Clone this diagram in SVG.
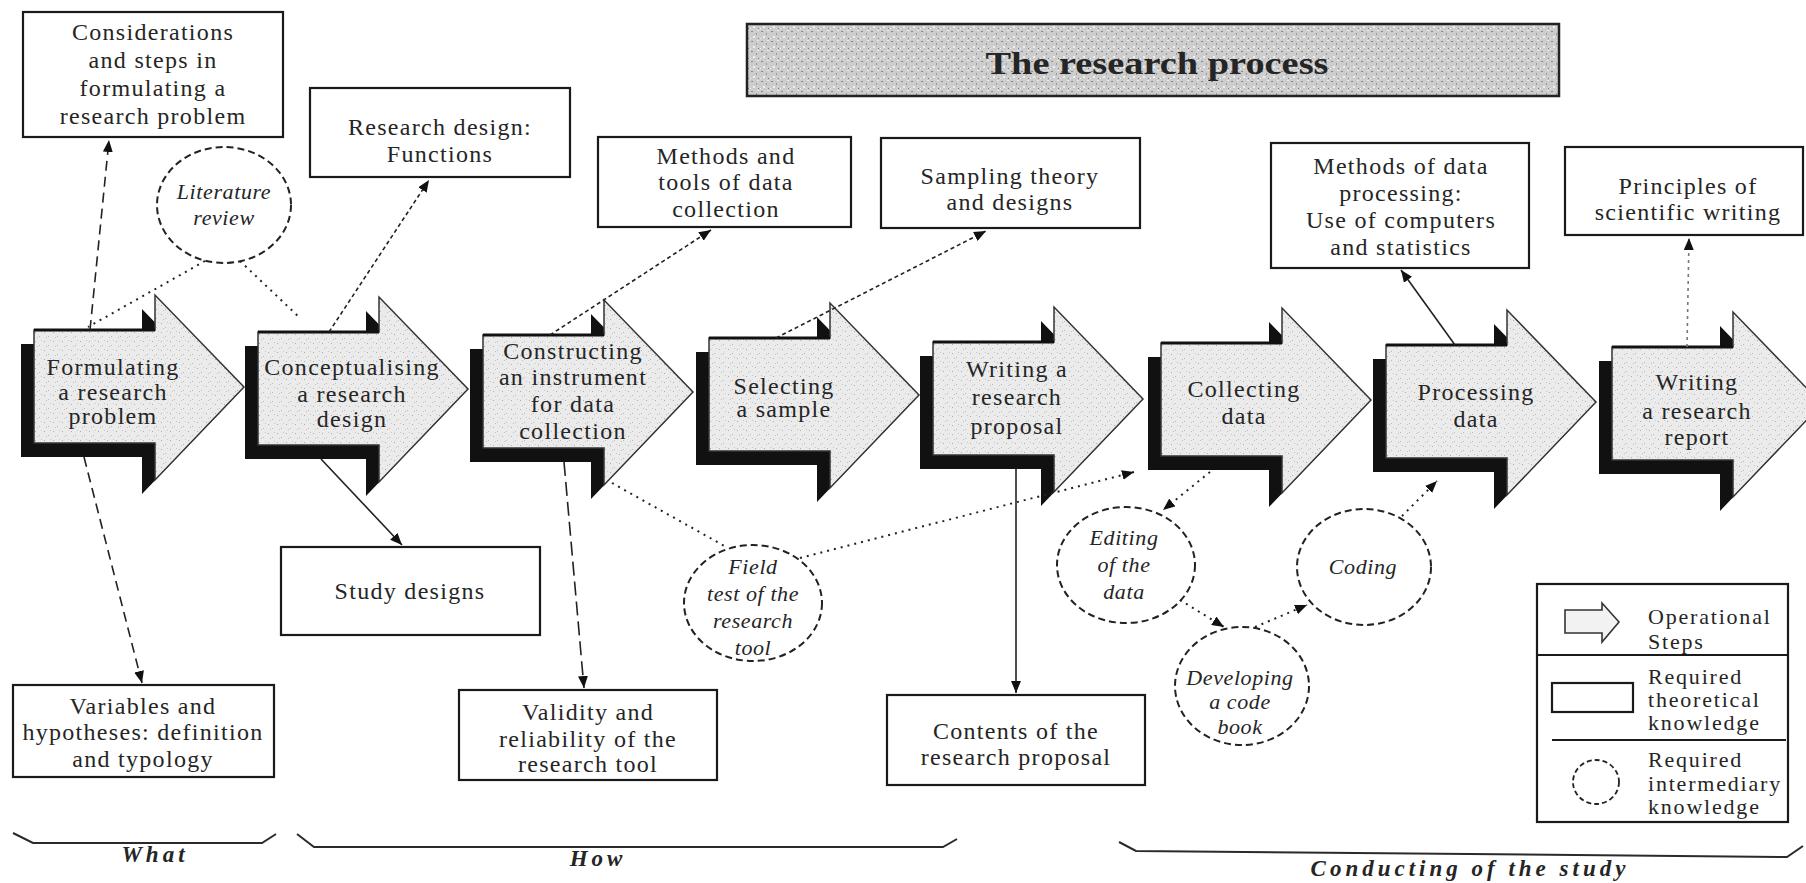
<svg xmlns="http://www.w3.org/2000/svg" xmlns:xlink="http://www.w3.org/1999/xlink" width="1806" height="883" viewBox="0 0 1806 883">
<defs>
<style>
.t{font-family:"Liberation Serif","Times New Roman",serif;font-size:24px;letter-spacing:1.3px;fill:#252525;text-anchor:middle}
.it{font-style:italic;font-size:22px;letter-spacing:0.6px}
.lg{font-size:22px;letter-spacing:1.8px;text-anchor:start}
.lab{font-weight:bold;font-style:italic;font-size:23px;letter-spacing:4px}
.title{font-weight:bold;font-size:31px;letter-spacing:0}
.box{fill:#fff;stroke:#1a1a1a;stroke-width:2.2}
.circ{fill:#fff;stroke:#222;stroke-width:2;stroke-dasharray:7 4}
.shadow{fill:#111}
.front{fill:url(#stip);stroke:#333;stroke-width:1.5}
.topedge{stroke:#111;stroke-width:3}
.con{fill:none;stroke:#222;stroke-width:1.6}
.dash{stroke-dasharray:10 6}
.ldash{stroke-dasharray:14 6}
.dot{stroke-dasharray:2 5;stroke-width:2}
.ddot{stroke-dasharray:4 3}
.light{stroke:#777;stroke-dasharray:3 4}
.brace{fill:none;stroke:#2a2a2a;stroke-width:2}
</style>
<pattern id="stip" width="9" height="9" patternUnits="userSpaceOnUse">
<rect width="9" height="9" fill="#ebebeb"/>
<rect x="1" y="2" width="1" height="1" fill="#adadad"/>
<rect x="5" y="6" width="1" height="1" fill="#bababa"/>
<rect x="7" y="1" width="1" height="1" fill="#c8c8c8"/>
<rect x="3" y="7" width="1" height="1" fill="#c2c2c2"/>
</pattern>
<pattern id="noise" width="10" height="10" patternUnits="userSpaceOnUse">
<rect width="10" height="10" fill="#cdcdcd"/>
<rect x="1" y="1" width="2" height="1" fill="#8a8a8a"/>
<rect x="6" y="3" width="1" height="2" fill="#9a9a9a"/>
<rect x="3" y="6" width="2" height="2" fill="#efefef"/>
<rect x="8" y="8" width="1" height="1" fill="#7a7a7a"/>
<rect x="0" y="8" width="1" height="1" fill="#f5f5f5"/>
<rect x="7" y="0" width="2" height="1" fill="#eaeaea"/>
</pattern>
<marker id="ah" markerUnits="userSpaceOnUse" markerWidth="14" markerHeight="10" refX="12" refY="5" orient="auto">
<path d="M0,0 L12,5 L0,10 Z" fill="#111"/>
</marker>
<polygon id="stepShape" points="0,0 121,0 121,-35 210,57 121,150 121,113 0,113"/>
</defs>

<rect width="1806" height="883" fill="#fff"/>

<g id="title">
<rect x="747" y="24" width="812" height="72" fill="url(#noise)" stroke="#222" stroke-width="2.5"/>
<text class="t title" x="1157" y="74" textLength="343" lengthAdjust="spacingAndGlyphs">The research process</text>
</g>

<g id="considerations">
<rect class="box" x="23" y="12" width="260" height="125"/>
<text class="t" x="153" y="40">Considerations</text>
<text class="t" x="153" y="68">and steps in</text>
<text class="t" x="153" y="96">formulating a</text>
<text class="t" x="153" y="124">research problem</text>
</g>

<g id="research-design-functions">
<rect class="box" x="310" y="88" width="260" height="89"/>
<text class="t" x="440" y="135">Research design:</text>
<text class="t" x="440" y="162">Functions</text>
</g>

<g id="literature-review">
<ellipse class="circ" cx="224" cy="205" rx="67" ry="58"/>
<text class="t it" x="224" y="199">Literature</text>
<text class="t it" x="224" y="225">review</text>
</g>

<g id="methods-tools">
<rect class="box" x="598" y="137" width="253" height="90"/>
<text class="t" x="726" y="164">Methods and</text>
<text class="t" x="726" y="190">tools of data</text>
<text class="t" x="726" y="217">collection</text>
</g>

<g id="sampling">
<rect class="box" x="881" y="138" width="259" height="90"/>
<text class="t" x="1010" y="184">Sampling theory</text>
<text class="t" x="1010" y="210">and designs</text>
</g>

<g id="methods-processing">
<rect class="box" x="1271" y="143" width="258" height="125"/>
<text class="t" x="1401" y="174">Methods of data</text>
<text class="t" x="1401" y="201">processing:</text>
<text class="t" x="1401" y="228">Use of computers</text>
<text class="t" x="1401" y="255">and statistics</text>
</g>

<g id="principles">
<rect class="box" x="1565" y="147" width="238" height="88"/>
<text class="t" x="1688" y="194">Principles of</text>
<text class="t" x="1688" y="220">scientific writing</text>
</g>

<g id="step1" transform="translate(34,330)">
<use xlink:href="#stepShape" class="shadow" x="-13" y="14"/>
<use xlink:href="#stepShape" class="front"/>
<path class="topedge" d="M0,0 H121"/>
<text class="t" x="79" y="45">Formulating</text>
<text class="t" x="79" y="70">a research</text>
<text class="t" x="79" y="94">problem</text>
</g>

<g id="step2" transform="translate(258,332)">
<use xlink:href="#stepShape" class="shadow" x="-13" y="14"/>
<use xlink:href="#stepShape" class="front"/>
<path class="topedge" d="M0,0 H121"/>
<text class="t" x="94" y="43">Conceptualising</text>
<text class="t" x="94" y="70">a research</text>
<text class="t" x="94" y="95">design</text>
</g>

<g id="step3" transform="translate(483,335)">
<use xlink:href="#stepShape" class="shadow" x="-13" y="14"/>
<use xlink:href="#stepShape" class="front"/>
<path class="topedge" d="M0,0 H121"/>
<text class="t" x="90" y="24">Constructing</text>
<text class="t" x="90" y="50">an instrument</text>
<text class="t" x="90" y="77">for data</text>
<text class="t" x="90" y="104">collection</text>
</g>

<g id="step4" transform="translate(709,338)">
<use xlink:href="#stepShape" class="shadow" x="-13" y="14"/>
<use xlink:href="#stepShape" class="front"/>
<path class="topedge" d="M0,0 H121"/>
<text class="t" x="75" y="56">Selecting</text>
<text class="t" x="75" y="79">a sample</text>
</g>

<g id="step5" transform="translate(933,342)">
<use xlink:href="#stepShape" class="shadow" x="-13" y="14"/>
<use xlink:href="#stepShape" class="front"/>
<path class="topedge" d="M0,0 H121"/>
<text class="t" x="84" y="35">Writing a</text>
<text class="t" x="84" y="63">research</text>
<text class="t" x="84" y="92">proposal</text>
</g>

<g id="step6" transform="translate(1161,343)">
<use xlink:href="#stepShape" class="shadow" x="-13" y="14"/>
<use xlink:href="#stepShape" class="front"/>
<path class="topedge" d="M0,0 H121"/>
<text class="t" x="83" y="54">Collecting</text>
<text class="t" x="83" y="81">data</text>
</g>

<g id="step7" transform="translate(1386,345)">
<use xlink:href="#stepShape" class="shadow" x="-13" y="14"/>
<use xlink:href="#stepShape" class="front"/>
<path class="topedge" d="M0,0 H121"/>
<text class="t" x="90" y="55">Processing</text>
<text class="t" x="90" y="82">data</text>
</g>

<g id="step8" transform="translate(1612,347)">
<use xlink:href="#stepShape" class="shadow" x="-13" y="14"/>
<use xlink:href="#stepShape" class="front"/>
<path class="topedge" d="M0,0 H121"/>
<text class="t" x="85" y="43">Writing</text>
<text class="t" x="85" y="72">a research</text>
<text class="t" x="85" y="98">report</text>
</g>

<g id="study-designs">
<rect class="box" x="281" y="547" width="259" height="88"/>
<text class="t" x="410" y="599">Study designs</text>
</g>

<g id="variables">
<rect class="box" x="13" y="685" width="261" height="92"/>
<text class="t" x="143" y="714">Variables and</text>
<text class="t" x="143" y="740">hypotheses: definition</text>
<text class="t" x="143" y="767">and typology</text>
</g>

<g id="validity">
<rect class="box" x="459" y="690" width="258" height="90"/>
<text class="t" x="588" y="720">Validity and</text>
<text class="t" x="588" y="747">reliability of the</text>
<text class="t" x="588" y="772">research tool</text>
</g>

<g id="field-test">
<ellipse class="circ" cx="753" cy="603" rx="69" ry="58"/>
<text class="t it" x="753" y="574">Field</text>
<text class="t it" x="753" y="601">test of the</text>
<text class="t it" x="753" y="628">research</text>
<text class="t it" x="753" y="655">tool</text>
</g>

<g id="contents">
<rect class="box" x="887" y="695" width="258" height="90"/>
<text class="t" x="1016" y="739">Contents of the</text>
<text class="t" x="1016" y="765">research proposal</text>
</g>

<g id="editing">
<ellipse class="circ" cx="1126" cy="565" rx="69" ry="58"/>
<text class="t it" x="1124" y="545">Editing</text>
<text class="t it" x="1124" y="572">of the</text>
<text class="t it" x="1124" y="599">data</text>
</g>

<g id="coding">
<ellipse class="circ" cx="1364" cy="567" rx="67" ry="58"/>
<text class="t it" x="1363" y="574">Coding</text>
</g>

<g id="codebook">
<ellipse class="circ" cx="1242" cy="686" rx="67" ry="59"/>
<text class="t it" x="1240" y="685">Developing</text>
<text class="t it" x="1240" y="709">a code</text>
<text class="t it" x="1240" y="734">book</text>
</g>

<g id="legend">
<rect x="1537" y="584" width="251" height="238" fill="#fff" stroke="#1a1a1a" stroke-width="2.2"/>
<line x1="1537" y1="655" x2="1788" y2="655" stroke="#1a1a1a" stroke-width="2"/>
<line x1="1552" y1="740" x2="1786" y2="740" stroke="#1a1a1a" stroke-width="2"/>
<polygon points="1565,610 1602,610 1602,603 1619,622 1602,642 1602,633 1565,633" fill="#f2f2f2" stroke="#333" stroke-width="1.6"/>
<text class="t lg" x="1648" y="624">Operational</text>
<text class="t lg" x="1648" y="649">Steps</text>
<rect x="1552" y="683" width="81" height="29" fill="#fff" stroke="#1a1a1a" stroke-width="2.2"/>
<text class="t lg" x="1648" y="684">Required</text>
<text class="t lg" x="1648" y="707">theoretical</text>
<text class="t lg" x="1648" y="730">knowledge</text>
<ellipse cx="1596" cy="782" rx="23" ry="22" fill="#fff" stroke="#222" stroke-width="1.8" stroke-dasharray="5 3"/>
<text class="t lg" x="1648" y="767">Required</text>
<text class="t lg" x="1648" y="791">intermediary</text>
<text class="t lg" x="1648" y="814">knowledge</text>
</g>

<g id="phases">
<path class="brace" d="M13,833 L33,843 H262 L276,834"/>
<text class="t lab" x="155" y="862">What</text>
<path class="brace" d="M297,834 L314,847 H943 L957,839"/>
<text class="t lab" x="598" y="866">How</text>
<path class="brace" d="M1119,842 L1136,851 L1787,857 L1803,846"/>
<text class="t lab" x="1470" y="876">Conducting of the study</text>
</g>

<g id="connectors">
<line class="con dash" x1="90" y1="330" x2="109" y2="140" marker-end="url(#ah)"/>
<line class="con dot" x1="205" y1="261" x2="88" y2="327"/>
<line class="con dot" x1="240" y1="261" x2="300" y2="318"/>
<line class="con ddot" x1="329" y1="332" x2="429" y2="180" marker-end="url(#ah)"/>
<line class="con ddot" x1="550" y1="335" x2="711" y2="230" marker-end="url(#ah)"/>
<line class="con ddot" x1="776" y1="338" x2="986" y2="231" marker-end="url(#ah)"/>
<line class="con" x1="1455" y1="345" x2="1401" y2="270" marker-end="url(#ah)"/>
<line class="con light" x1="1687" y1="347" x2="1689" y2="238" marker-end="url(#ah)"/>
<line class="con dash" x1="84" y1="457" x2="142" y2="683" marker-end="url(#ah)"/>
<line class="con" x1="321" y1="459" x2="402" y2="545" marker-end="url(#ah)"/>
<line class="con ldash" x1="564" y1="462" x2="584" y2="688" marker-end="url(#ah)"/>
<line class="con dot" x1="612" y1="483" x2="728" y2="548"/>
<line class="con dot" x1="800" y1="558" x2="1134" y2="472" marker-end="url(#ah)"/>
<line class="con" x1="1016" y1="469" x2="1016" y2="693" marker-end="url(#ah)"/>
<line class="con dot" x1="1210" y1="472" x2="1163" y2="510" marker-end="url(#ah)"/>
<line class="con dot" x1="1180" y1="600" x2="1224" y2="627" marker-end="url(#ah)"/>
<line class="con dot" x1="1255" y1="627" x2="1307" y2="605" marker-end="url(#ah)"/>
<line class="con dot" x1="1402" y1="516" x2="1437" y2="481" marker-end="url(#ah)"/>
</g>
</svg>
